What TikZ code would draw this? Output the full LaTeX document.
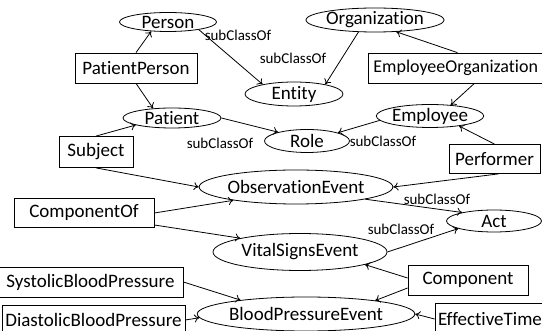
\documentclass[tikz,border=0pt]{standalone}
\usepackage{fontspec}
\setmainfont{Carlito}[Ligatures=NoCommon]
\usepackage{tikz}
\usetikzlibrary{arrows.meta, shapes.geometric, positioning}

\tikzset{
    cls/.style={ellipse, draw, line width=0.8pt, inner sep=0pt, font=\fontsize{19}{21}\selectfont},
    prop/.style={rectangle, draw, line width=0.8pt, inner sep=0pt, font=\fontsize{19}{21}\selectfont},
    lbl/.style={font=\fontsize{15}{17}\selectfont},
    link/.style={-{To[length=5pt,width=8pt]}, line width=0.8pt}
}

\begin{document}
\begin{tikzpicture}[x=1pt, y=-1pt]
    \clip (0,0) rectangle (542,331);

    % Top row: Person, Organization and their subclass Entity
    \node[cls, minimum width=97pt, minimum height=19pt] (person) at (168,22) {Person};
    \node[cls, minimum width=126pt, minimum height=24pt] (org) at (375,20) {Organization};
    \node[cls, minimum width=98pt, minimum height=24pt] (entity) at (294,94) {Entity};
    \node[prop, minimum width=122pt, minimum height=30pt] (pp) at (136,68) {PatientPerson};
    \node[prop, anchor=west, inner xsep=5pt, minimum height=30pt, text width=168pt, align=left,
          font=\fontsize{18}{20}\selectfont] (eo) at (368,68) {EmployeeOrganization};

    % Roles
    \node[cls, minimum width=98pt, minimum height=20pt] (patient) at (172,118) {Patient};
    \node[cls, minimum width=90pt, minimum height=22pt] (employee) at (430,116) {Employee};
    \node[cls, minimum width=85pt, minimum height=23pt] (role) at (307,141) {Role};
    \node[prop, minimum width=74pt, minimum height=31pt] (subject) at (96,152) {Subject};
    \node[prop, minimum width=91pt, minimum height=29pt] (performer) at (494.5,159) {Performer};

    % Events
    \node[cls, minimum width=181pt, minimum height=34pt] (obs) at (296,187) {ObservationEvent};
    \node[cls, minimum width=95pt, minimum height=22pt] (act) at (494,221) {Act};
    \node[cls, minimum width=174pt, minimum height=37pt] (vital) at (300,252) {VitalSignsEvent};
    \node[cls, minimum width=174pt, minimum height=34pt] (bpe) at (306,314) {BloodPressureEvent};
    \node[prop, minimum width=140pt, minimum height=29pt] (compof) at (84,213) {ComponentOf};
    \node[prop, minimum width=120pt, minimum height=30pt] (component) at (468,280) {Component};
    \node[prop, minimum width=185pt, minimum height=30pt] (systolic) at (90.5,282) {SystolicBloodPressure};
    \node[prop, minimum width=183pt, minimum height=30pt] (diastolic) at (93.5,320) {DiastolicBloodPressure};
    \node[prop, minimum width=110pt, minimum height=32pt, text width=104pt, align=left] (efftime) at (490,319) {EffectiveTime};

    % subClassOf labels
    \node[lbl] (l1) at (238,35) {subClassOf};
    \node[lbl] (l2) at (293,58) {subClassOf};
    \node[lbl] (l3) at (220,143) {subClassOf};
    \node[lbl] (l4) at (383,141) {subClassOf};
    \node[lbl] (l5) at (437,199) {subClassOf};
    \node[lbl] (l6) at (401,229) {subClassOf};

    % Links
    \draw[link] (pp.north) -- (person.209);
    \draw[link] (pp.south) -- (patient.153);
    \draw[link] (person.346) -- (entity.163);
    \draw[link] (org.216) -- (entity.17);
    \draw[link] (eo.north) -- (org.331);
    \draw[link] ([xshift=17pt]eo.south) -- (employee.28);
    \draw[link] (patient.east) -- (role.163);
    \draw[link] (employee.185) -- (role.15);
    \draw[link] (subject.north) -- (patient.191);
    \draw[link] (subject.south) -- (obs.west);
    \draw[link] (performer.north) -- (employee.341);
    \draw[link] ([xshift=4pt]performer.south) -- (obs.east);
    \draw[link] (obs.350) -- (act.165);
    \draw[link] (vital.east) -- (act.192);
    \draw[link] (compof.east) -- (obs.192);
    \draw[link] ([yshift=-12pt]compof.east) -- (vital.167);
    \draw[link] ([yshift=2pt]component.west) -- (vital.349);
    \draw[link] ([yshift=-8pt]component.west) -- (bpe.11);
    \draw[link] (systolic.east) -- (bpe.168);
    \draw[link] (diastolic.east) -- (bpe.182);
    \draw[link] (efftime.west) -- (bpe.east);
\end{tikzpicture}
\end{document}
